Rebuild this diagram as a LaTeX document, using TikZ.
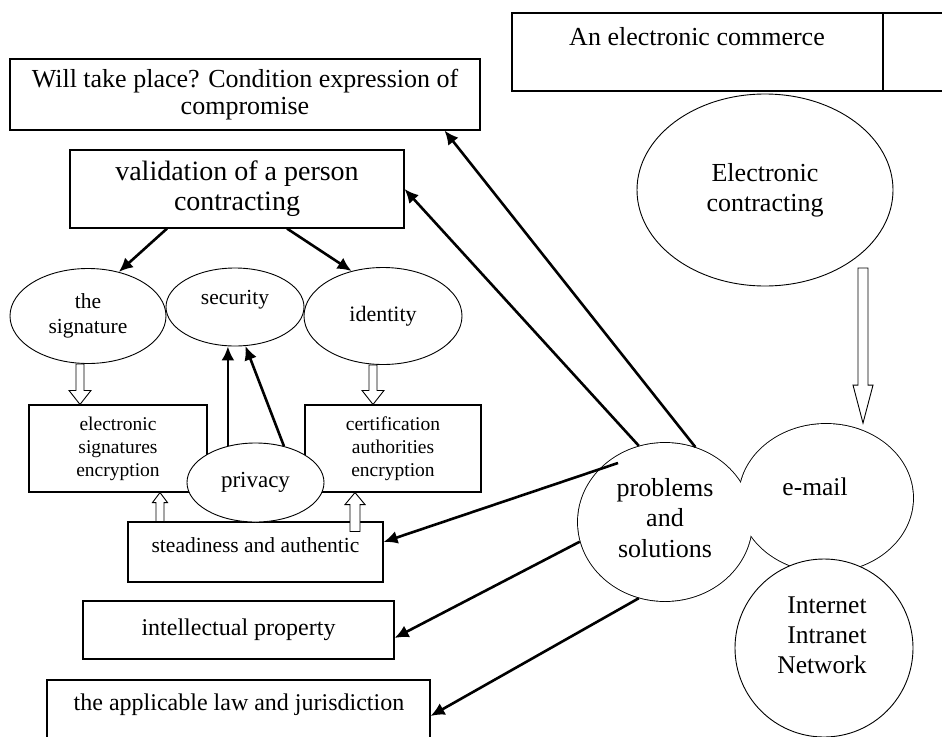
\documentclass[tikz,border=0pt]{standalone}
\usepackage{fontspec}
\setmainfont{Liberation Serif}
\usetikzlibrary{arrows.meta,calc,shapes.geometric}

\begin{document}
\begin{tikzpicture}[x=1pt,y=-1pt,
    box/.style={draw, line width=1.1pt, rectangle, fill=white, inner sep=0pt, align=center},
    oval/.style={draw, line width=0.9pt, ellipse, fill=white, inner sep=0pt, align=center},
    txt/.style={inner sep=0pt, align=center},
    link/.style={line width=2.6pt, -{Latex[length=14pt,width=13pt]}},
    hollow/.style n args={3}{draw, line width=0.9pt, fill=white, to path={
        let \p1=(\tikztostart), \p2=(\tikztotarget),
            \p3=($(\tikztotarget)!#3!(\tikztostart)$) in
        (\x1-#1,\y1) -- (\x1-#1,\y3) -- (\x1-#2,\y3) -- (\x1,\y2)
        -- (\x1+#2,\y3) -- (\x1+#1,\y3) -- (\x1+#1,\y1) -- cycle}}]

    \clip (0,0) rectangle (942,736);

    \node[box, minimum width=448, minimum height=78] (commerce) at (736,52) {};
    \node[txt, font=\fontsize{26}{30}\selectfont] (commercetext) at (697,37) {An electronic commerce};
    \draw[line width=1.1pt] (883,13) -- (883,91);

    \node[box, minimum width=470, minimum height=71, font=\fontsize{26}{27}\selectfont]
        (will) at (245,94.5) {Will take place? Condition expression of\\compromise};
    \node[box, minimum width=334, minimum height=78, font=\fontsize{28}{30}\selectfont]
        (valid) at (237,189) {validation of a person\\contracting};

    \node[oval, minimum width=156, minimum height=95, font=\fontsize{21.5}{25}\selectfont]
        (sign) at (88,316) {the\\signature};
    \node[oval, minimum width=138, minimum height=78] (secur) at (235,307) {};
    \node[txt, font=\fontsize{21.5}{25}\selectfont] (securtext) at (235,300) {security};
    \node[oval, minimum width=158, minimum height=97, font=\fontsize{22}{25}\selectfont]
        (ident) at (383,316) {identity};

    \node[box, minimum width=178, minimum height=87, font=\fontsize{19.5}{23}\selectfont]
        (esign) at (118,448.5) {electronic\\signatures\\encryption};
    \node[box, minimum width=176, minimum height=87, font=\fontsize{19.5}{23}\selectfont]
        (certif) at (393,448.5) {certification\\authorities\\encryption};
    \node[box, minimum width=255, minimum height=60] (steady) at (255.5,552) {};
    \node[txt, font=\fontsize{21.5}{25}\selectfont] (steadytext) at (255.5,545) {steadiness and authentic};
    \node[oval, minimum width=137, minimum height=79, font=\fontsize{23}{26}\selectfont]
        (privacy) at (255.5,482.5) {privacy};

    \node[box, minimum width=311, minimum height=58, font=\fontsize{24}{28}\selectfont]
        (intel) at (238.5,630) {intellectual property};
    \node[box, minimum width=383, minimum height=72] (law) at (238.5,716) {};
    \node[txt, font=\fontsize{24}{28}\selectfont] (lawtext) at (239,705) {the applicable law and jurisdiction};

    \node[oval, minimum width=256, minimum height=192, font=\fontsize{26}{30}\selectfont]
        (econtract) at (765,190) {Electronic\\contracting};

    % e-mail and problems merge into one outline
    \node[oval, line width=1.8pt, minimum width=174, minimum height=148] (email) at (826,498) {};
    \node[oval, line width=1.8pt, minimum width=174, minimum height=158] (probs) at (665,522) {};
    \fill[white] (email.center) ellipse [x radius=87, y radius=74];
    \fill[white] (probs.center) ellipse [x radius=87, y radius=79];
    \node[oval, minimum width=178, minimum height=178] (inet) at (824,648) {};

    \node[txt, font=\fontsize{26}{30.5}\selectfont] (probstext) at (665,518) {problems\\and\\solutions};
    \node[txt, font=\fontsize{25.5}{30}\selectfont] (emailtext) at (815,487) {e-mail};
    \node[txt, align=right, font=\fontsize{25.5}{30}\selectfont]
        (inettext) at (822,635) {Internet\\Intranet\\Network};

    \draw[link] (probs.68) -- ([xshift=-36pt]will.south east);
    \draw[link] (probs.109) -- (valid.east);
    \draw[link] ($(probs.center)+(-47,-59)$) -- ([yshift=10pt]steady.east);
    \draw[link] (probs.193) -- ([yshift=-8pt]intel.east);
    \draw[link] (probs.251) -- (law.east);

    \draw[link] ([xshift=-70pt]valid.south) -- (sign.55);
    \draw[link] ([xshift=50pt]valid.south) -- (ident.125);
    \draw[link] (privacy.127) -- (privacy.127 |- secur.south);
    \draw[link] (privacy.52) -- (secur.285);

    \coordinate (sa) at ([xshift=-8pt]sign.south);
    \coordinate (ia) at ([xshift=-10pt]ident.south);
    \coordinate (ua) at ([xshift=-95.5pt]steady.north);
    \coordinate (ub) at ([xshift=99.5pt,yshift=-10pt]steady.north);
    \coordinate (ec) at ($(econtract.center)+(98,78)$);
    \draw[hollow={4pt}{11pt}{14pt}] (sa) to (sa |- esign.north);
    \draw[hollow={4pt}{11pt}{14pt}] (ia) to (ia |- certif.north);
    \draw[hollow={4pt}{7.5pt}{10pt}] (ua) to (ua |- esign.south);
    \draw[hollow={5pt}{10pt}{12pt}] (ub) to (ub |- certif.south);
    \draw[hollow={5pt}{10pt}{38pt}] (ec) to (ec |- email.north);
\end{tikzpicture}
\end{document}
